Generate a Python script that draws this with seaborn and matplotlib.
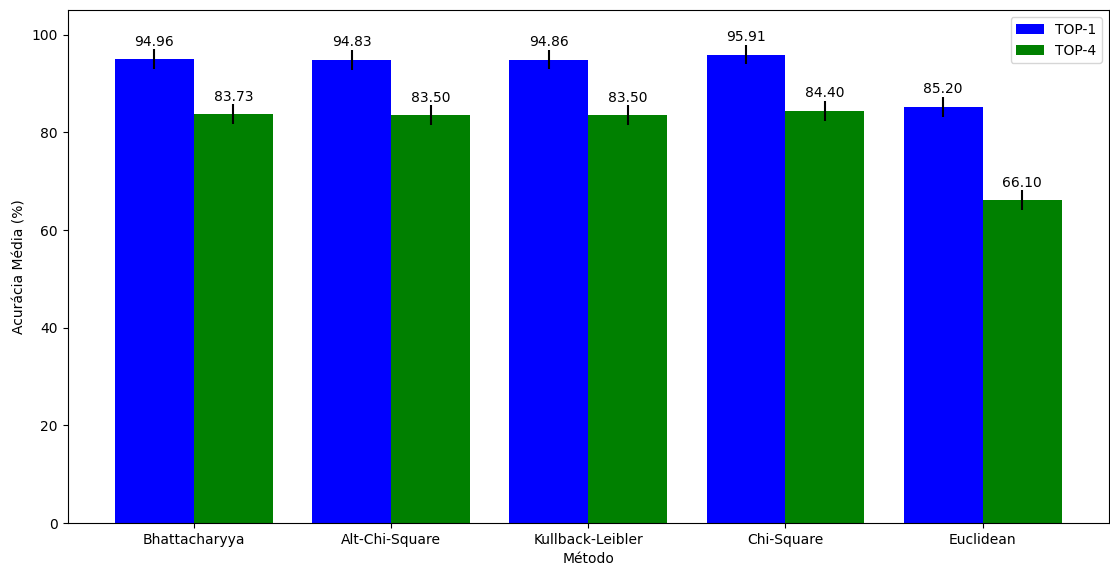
import matplotlib
matplotlib.use("Agg")
import pandas as pd
import matplotlib.pyplot as plt
import seaborn as sns

# Accuracy per distance method
methods = ["Bhattacharyya", "Alt-Chi-Square", "Kullback-Leibler", "Chi-Square", "Euclidean"]
top1 = [94.96, 94.83, 94.86, 95.91, 85.20]
top4 = [83.73, 83.50, 83.50, 84.40, 66.10]
top1_std = [2.0, 2.0, 2.0, 2.0, 2.0]
top4_std = [2.0, 2.0, 2.0, 2.0, 2.0]

df = pd.DataFrame({
    "Método": methods * 2,
    "Acurácia": top1 + top4,
    "std": top1_std + top4_std,
    "Top": ["TOP-1"] * len(methods) + ["TOP-4"] * len(methods),
})

fig, ax = plt.subplots(figsize=(11.1, 5.65), dpi=100)
sns.barplot(data=df, x="Método", y="Acurácia", hue="Top",
            palette={"TOP-1": "blue", "TOP-4": "green"},
            saturation=1, errorbar=None, width=0.8, ax=ax)

# error bars + value labels, one container per hue level
for cont, vals, errs in zip(ax.containers, [top1, top4], [top1_std, top4_std]):
    for patch, v, e in zip(cont.patches, vals, errs):
        patch.set_edgecolor("none")
        xc = patch.get_x() + patch.get_width() / 2
        ax.errorbar(xc, v, yerr=e, color="black", linewidth=1.5, capsize=0)
        ax.annotate(f"{v:.2f}", (xc, v + e), xytext=(0, 0.5),
                    textcoords="offset points", ha="center", va="bottom",
                    fontsize=10)

ax.set_ylim(0, 105)
ax.set_xlabel("Método")
ax.set_ylabel("Acurácia Média (%)")
handles, labels = ax.get_legend_handles_labels()
ax.legend(handles, labels, loc="upper right")

fig.subplots_adjust(left=0.061, right=0.999, top=0.982, bottom=0.074)
fig.savefig("out.png", dpi=100)
